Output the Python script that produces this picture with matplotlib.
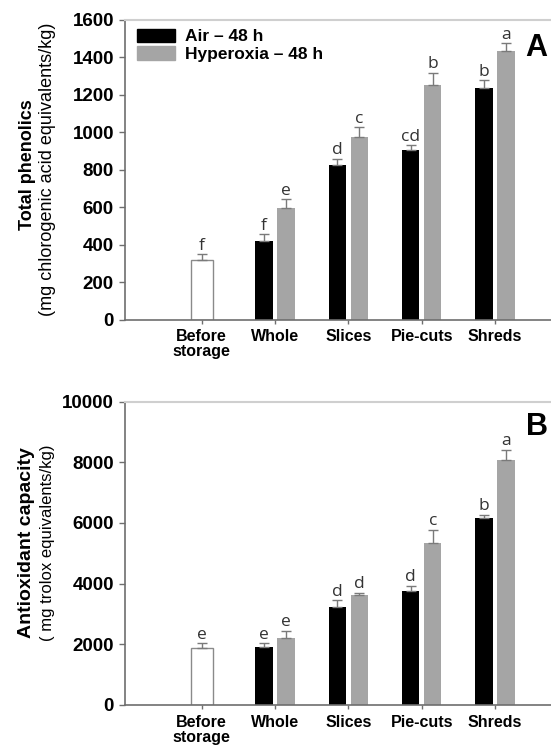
import numpy as np
import matplotlib
matplotlib.use('Agg')
import matplotlib.pyplot as plt
from matplotlib.patches import Patch

plt.rcParams['font.family'] = ['Liberation Sans', 'DejaVu Sans']

# categories on the x axis
categories = ['Before\nstorage', 'Whole', 'Slices', 'Pie-cuts', 'Shreds']

# panel A: total phenolics (mg chlorogenic acid equivalents/kg)
phen_before = 318
phen_before_err = 30
phen_before_lab = 'f'
phen_air = [417, 827, 908, 1237]
phen_air_err = [38, 32, 22, 40]
phen_air_lab = ['f', 'd', 'cd', 'b']
phen_hyp = [597, 974, 1255, 1433]
phen_hyp_err = [45, 53, 62, 42]
phen_hyp_lab = ['e', 'c', 'b', 'a']

# panel B: antioxidant capacity (mg trolox equivalents/kg)
anti_before = 1870
anti_before_err = 160
anti_before_lab = 'e'
anti_air = [1920, 3230, 3770, 6160]
anti_air_err = [110, 220, 150, 110]
anti_air_lab = ['e', 'd', 'd', 'b']
anti_hyp = [2200, 3610, 5330, 8070]
anti_hyp_err = [250, 95, 440, 330]
anti_hyp_lab = ['e', 'd', 'c', 'a']

series_names = ['Air \u2013 48 h', 'Hyperoxia \u2013 48 h']

GRAY_BAR = '#a5a5a5'
AXIS_GRAY = '#6e6e6e'
ERR_GRAY = '#7a7a7a'


def letter(ax, x, y, s):
    ax.annotate(s, (x, y), xytext=(0, 0.5), textcoords='offset points',
                ha='center', va='bottom', fontsize=12.5, color='#333333',
                family=['Open Sans', 'DejaVu Sans'])


def draw_panel(ax, before, before_err, before_lab, air, air_err, air_lab,
               hyp, hyp_err, hyp_lab, ymax, step):
    x = np.arange(1, len(categories))
    off = 0.15
    w = 0.235
    ax.bar(0, before, width=0.3, color='white', edgecolor='#8a8a8a', linewidth=1, zorder=2)
    ax.bar(x - off, air, width=w, color='black', zorder=2)
    ax.bar(x + off, hyp, width=w, color=GRAY_BAR, zorder=2)
    ax.errorbar([0], [before], yerr=[[0], [before_err]], fmt='none', ecolor=ERR_GRAY,
                elinewidth=1, capsize=3.5, capthick=1, zorder=3)
    ax.errorbar(x - off, air, yerr=[np.zeros(len(air)), air_err], fmt='none', ecolor=ERR_GRAY,
                elinewidth=1, capsize=3.5, capthick=1, zorder=3)
    ax.errorbar(x + off, hyp, yerr=[np.zeros(len(hyp)), hyp_err], fmt='none', ecolor=ERR_GRAY,
                elinewidth=1, capsize=3.5, capthick=1, zorder=3)
    letter(ax, 0, before + before_err, before_lab)
    for i in range(len(air)):
        letter(ax, x[i] - off, air[i] + air_err[i], air_lab[i])
        letter(ax, x[i] + off, hyp[i] + hyp_err[i], hyp_lab[i])

    ax.set_xlim(-1.045, 4.89)
    ax.set_ylim(0, ymax)
    ax.set_yticks(np.arange(0, ymax + 1, step))
    ax.set_xticks(np.arange(len(categories)))
    ax.set_xticklabels(categories, fontsize=11.5, fontweight='bold', linespacing=1.0)
    for lab in ax.get_yticklabels():
        lab.set_fontweight('bold')
        lab.set_fontsize(13.5)
    ax.tick_params(axis='y', direction='out', length=4, width=1, color=AXIS_GRAY, pad=4)
    ax.tick_params(axis='x', direction='out', length=3, width=1, color=AXIS_GRAY, pad=4)
    ax.spines['right'].set_visible(False)
    ax.spines['top'].set_color('#cfcfcf')
    ax.spines['top'].set_linewidth(1.5)
    ax.spines['left'].set_color(AXIS_GRAY)
    ax.spines['bottom'].set_color(AXIS_GRAY)
    ax.spines['left'].set_linewidth(1.2)
    ax.spines['bottom'].set_linewidth(1.2)


fig = plt.figure(figsize=(5.51, 7.46), dpi=100)
axA = fig.add_axes([0.2269, 0.5717, 0.79, 0.4015])
axB = fig.add_axes([0.2269, 0.0550, 0.79, 0.4066])

draw_panel(axA, phen_before, phen_before_err, phen_before_lab, phen_air, phen_air_err,
           phen_air_lab, phen_hyp, phen_hyp_err, phen_hyp_lab, 1600, 200)
draw_panel(axB, anti_before, anti_before_err, anti_before_lab, anti_air, anti_air_err,
           anti_air_lab, anti_hyp, anti_hyp_err, anti_hyp_lab, 10000, 2000)

# panel letters
fig.text(536 / 551, 1 - 48 / 746, 'A', fontsize=22, fontweight='bold', ha='center', va='center')
fig.text(537 / 551, 1 - 427 / 746, 'B', fontsize=22, fontweight='bold', ha='center', va='center')

handles = [Patch(facecolor='black', edgecolor='black'),
           Patch(facecolor=GRAY_BAR, edgecolor=GRAY_BAR)]
axA.legend(handles, series_names, loc='upper left', bbox_to_anchor=(0.0, 1.012),
           frameon=False, prop={'weight': 'bold', 'size': 12.5}, handlelength=2.2,
           handleheight=0.8, handletextpad=0.55, labelspacing=0.12, borderaxespad=0.3)

# y axis titles (bold first line, plain second line)
fig.text(27 / 551, 1 - 165 / 746, 'Total phenolics', rotation=90, ha='center', va='center',
         fontsize=13, fontweight='bold')
fig.text(48 / 551, 1 - 169 / 746, '(mg chlorogenic acid equivalents/kg)', rotation=90,
         ha='center', va='center', fontsize=13)
fig.text(27 / 551, 1 - 543 / 746, 'Antioxidant capacity', rotation=90, ha='center',
         va='center', fontsize=14, fontweight='bold')
fig.text(48 / 551, 1 - 543 / 746, '( mg trolox equivalents/kg)', rotation=90,
         ha='center', va='center', fontsize=12)

fig.savefig('out.png', dpi=100)
